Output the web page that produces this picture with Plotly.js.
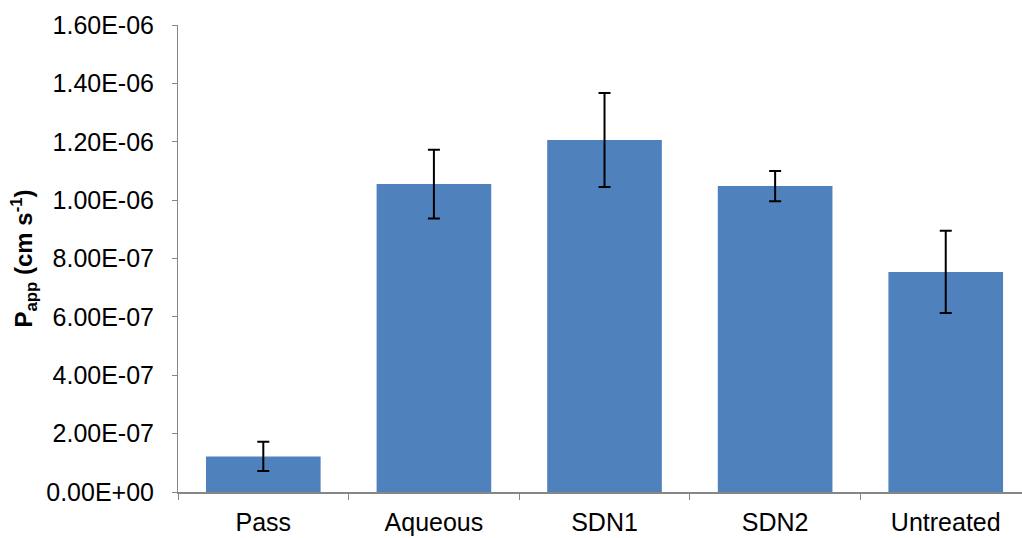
<!DOCTYPE html>
<html>
<head>
<meta charset="utf-8">
<script src="https://cdn.plot.ly/plotly-3.0.1.min.js"></script>
<style>html,body{margin:0;padding:0;background:#fff;}#chart{width:1022px;height:538px;}</style>
</head>
<body>
<div id="chart"></div>
<script>
const categories = ["Pass", "Aqueous", "SDN1", "SDN2", "Untreated"];
const papp = [1.22e-7, 1.055e-6, 1.206e-6, 1.048e-6, 7.54e-7];
const pappErr = [5.0e-8, 1.18e-7, 1.61e-7, 5.2e-8, 1.41e-7];
const yTickVals = [0, 2e-7, 4e-7, 6e-7, 8e-7, 1e-6, 1.2e-6, 1.4e-6, 1.6e-6];
const yTickText = ["0.00E+00", "2.00E-07", "4.00E-07", "6.00E-07", "8.00E-07", "1.00E-06", "1.20E-06", "1.40E-06", "1.60E-06"];

const trace = {
  type: "bar",
  x: categories,
  y: papp,
  marker: {color: "#4F81BD"},
  error_y: {type: "data", array: pappErr, visible: true, color: "#000000", thickness: 2, width: 6}
};

const layout = {
  width: 1022, height: 538,
  margin: {l: 178, r: 0, t: 25, b: 46},
  paper_bgcolor: "#ffffff", plot_bgcolor: "#ffffff",
  font: {family: "Liberation Sans, Arial, sans-serif", size: 25, color: "#000000"},
  bargap: 0.328,
  showlegend: false,
  xaxis: {
    type: "category",
    range: [-0.5, 4.447],
    automargin: false,
    showline: true, linecolor: "#868686", linewidth: 2,
    ticks: "outside", tickson: "boundaries", ticklen: 6, tickcolor: "#868686", tickwidth: 1,
    showgrid: false, zeroline: false,
    ticklabelstandoff: 7,
    tickfont: {size: 25}
  },
  yaxis: {
    range: [0, 1.6e-6],
    automargin: false,
    tickmode: "array", tickvals: yTickVals, ticktext: yTickText,
    showline: true, linecolor: "#868686", linewidth: 1,
    ticks: "outside", ticklen: 5, tickcolor: "#868686", tickwidth: 1,
    showgrid: false, zeroline: false,
    ticklabelstandoff: 13,
    tickfont: {size: 25},
    title: {text: "<b>P<sub>app</sub> (cm s<sup>-1</sup>)</b>", font: {size: 24}, standoff: 6}
  }
};

Plotly.newPlot("chart", [trace], layout, {displayModeBar: false, staticPlot: true});
</script>
</body>
</html>
